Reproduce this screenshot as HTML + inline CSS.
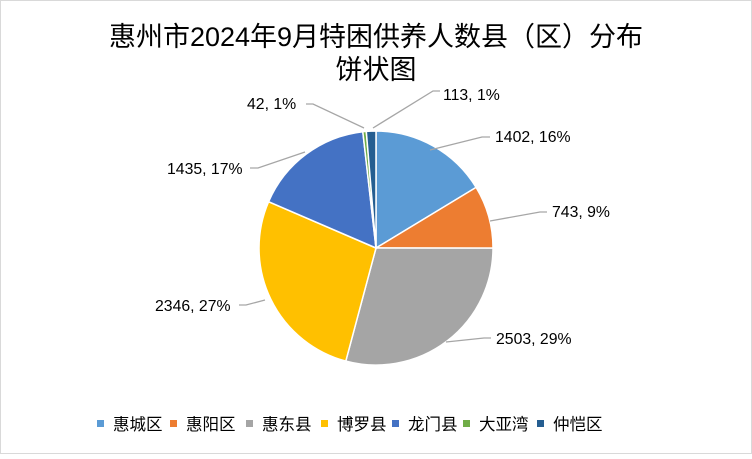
<!DOCTYPE html>
<html><head><meta charset="utf-8"><style>
body{margin:0;background:#fff}
svg text{font-family:"Liberation Sans","Noto Sans CJK SC",sans-serif;fill:#000}
</style></head><body>
<svg width="752" height="454" viewBox="0 0 752 454" xmlns="http://www.w3.org/2000/svg">
<rect x="0.5" y="0.5" width="751" height="453" fill="#fff" stroke="#d9d9d9"/>
<text x="376" y="46" font-size="27" text-anchor="middle">惠州市2024年9月特困供养人数县（区）分布</text>
<text x="376" y="79" font-size="27" text-anchor="middle">饼状图</text>
<g stroke="#fff" stroke-width="1.5">
<path d="M376,248 L376,131 A117,117 0 0 1 476.1,187.4 Z" fill="#5B9BD5"/>
<path d="M376,248 L476.1,187.4 A117,117 0 0 1 493,248.1 Z" fill="#ED7D31"/>
<path d="M376,248 L493,248.1 A117,117 0 0 1 345.8,361.1 Z" fill="#A5A5A5"/>
<path d="M376,248 L345.8,361.1 A117,117 0 0 1 268.6,201.7 Z" fill="#FFC000"/>
<path d="M376,248 L268.6,201.7 A117,117 0 0 1 362.8,131.7 Z" fill="#4472C4"/>
<path d="M376,248 L362.8,131.7 A117,117 0 0 1 366.3,131.4 Z" fill="#70AD47"/>
<path d="M376,248 L366.3,131.4 A117,117 0 0 1 376,131 Z" fill="#255E91"/>
</g>
<g stroke="#a6a6a6" stroke-width="1.3" fill="none">
<polyline points="373,128 433,91 440,91"/>
<polyline points="364,128 313,104 306,104"/>
<polyline points="430,150 482,137 490,137"/>
<polyline points="490,221 540,212 547,212"/>
<polyline points="446,342 484,338 491,338"/>
<polyline points="265,300 246,305 239,305"/>
<polyline points="305,152 258,168 250,168"/>
</g>
<g font-size="15.8">
<text x="443" y="100">113, 1%</text>
<text x="247" y="109">42, 1%</text>
<text x="495" y="142">1402, 16%</text>
<text x="552" y="217">743, 9%</text>
<text x="496" y="344">2503, 29%</text>
<text x="155" y="311">2346, 27%</text>
<text x="167" y="174">1435, 17%</text>
</g>
<g font-size="16.5">
<rect x="97" y="420" width="7" height="7" fill="#5B9BD5"/><text x="113" y="430">惠城区</text>
<rect x="170" y="420" width="7" height="7" fill="#ED7D31"/><text x="186" y="430">惠阳区</text>
<rect x="246" y="420" width="7" height="7" fill="#A5A5A5"/><text x="262" y="430">惠东县</text>
<rect x="321" y="420" width="7" height="7" fill="#FFC000"/><text x="337" y="430">博罗县</text>
<rect x="392" y="420" width="7" height="7" fill="#4472C4"/><text x="408" y="430">龙门县</text>
<rect x="463" y="420" width="7" height="7" fill="#70AD47"/><text x="479" y="430">大亚湾</text>
<rect x="537" y="420" width="7" height="7" fill="#255E91"/><text x="553" y="430">仲恺区</text>
</g>
</svg>
</body></html>
